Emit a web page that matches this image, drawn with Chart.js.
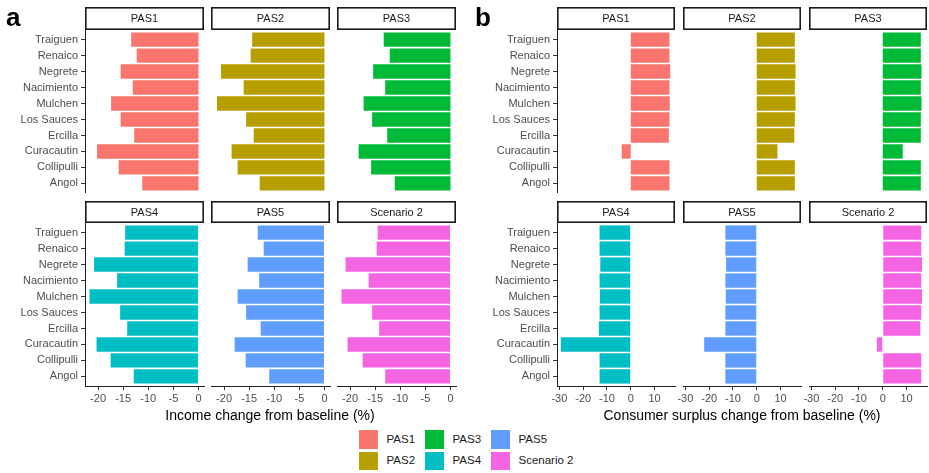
<!DOCTYPE html>
<html><head><meta charset="utf-8">
<script src="https://cdn.jsdelivr.net/npm/chart.js@4.4.1/dist/chart.umd.min.js"></script>
<style>
body{margin:0;background:#fff;width:929px;height:473px;overflow:hidden;position:relative;font-family:"Liberation Sans",Arial,sans-serif;}
canvas{position:absolute;}
.t{position:absolute;white-space:nowrap;}
</style></head><body>
<script>
// Categories bottom-to-top
const categories = ['Angol','Collipulli','Curacautin','Ercilla','Los Sauces','Mulchen','Nacimiento','Negrete','Renaico','Traiguen'];
const scenarios = ['PAS1','PAS2','PAS3','PAS4','PAS5','Scenario 2'];
const colors = ['#F8766D','#B79F00','#00BA38','#00BFC4','#619CFF','#F564E3'];

// Panel a: income change (%)
const incomePAS1 = [-11.2,-15.9,-20.2,-12.8,-15.5,-17.4,-13.1,-15.5,-12.3,-13.4];
const incomePAS2 = [-12.9,-17.3,-18.5,-14.1,-15.6,-21.4,-16.1,-20.6,-14.7,-14.4];
const incomePAS3 = [-11.1,-15.8,-18.3,-12.6,-15.6,-17.3,-13.0,-15.4,-12.1,-13.3];
const incomePAS4 = [-12.9,-17.5,-20.3,-14.2,-15.6,-21.7,-16.2,-20.8,-14.7,-14.6];
const incomePAS5 = [-11.0,-15.7,-17.9,-12.7,-15.6,-17.3,-13.0,-15.3,-12.1,-13.3];
const incomeScen2 = [-13.0,-17.5,-20.5,-14.2,-15.6,-21.7,-16.3,-20.9,-14.7,-14.5];

// Panel b: consumer surplus change (%)
const surplusPAS1 = [16.3,16.3,-3.8,16.0,16.3,16.4,16.3,16.6,16.3,16.3];
const surplusPAS2 = [16.0,16.0,8.7,15.8,16.0,16.3,16.0,16.3,16.0,16.0];
const surplusPAS3 = [16.0,16.0,8.4,16.0,16.0,16.3,16.0,16.3,16.0,16.0];
const surplusPAS4 = [-13.1,-13.1,-29.4,-13.4,-13.1,-13.0,-13.1,-12.8,-13.1,-13.1];
const surplusPAS5 = [-13.2,-13.2,-22.1,-13.2,-13.2,-13.0,-13.2,-12.9,-13.2,-13.2];
const surplusScen2 = [16.2,16.2,-2.5,15.8,16.2,16.5,16.2,16.5,16.2,16.2];

const incomeTicks = [-20,-15,-10,-5,0];
const surplusTicks = [-30,-20,-10,0,10];
const incomeTitle = 'Income change from baseline (%)';
const surplusTitle = 'Consumer surplus change from baseline (%)';

const incomeSeries = [incomePAS1,incomePAS2,incomePAS3,incomePAS4,incomePAS5,incomeScen2];
const surplusSeries = [surplusPAS1,surplusPAS2,surplusPAS3,surplusPAS4,surplusPAS5,surplusScen2];

const FONT = '"Liberation Sans", Arial, sans-serif';
const rows = [
  {stripTop:7, plotTop:30, plotBottom:193},
  {stripTop:201, plotTop:223, plotBottom:386}
];
const panels = [
  {lefts:[85,211,337], width:119, xmin:-22.6, xmax:1.1, YW:85, series:incomeSeries, ticks:incomeTicks},
  {lefts:[557,683,809], width:118, xmin:-31, xmax:18.6, YW:77, series:surplusSeries, ticks:surplusTicks}
];

function addText(txt, x, y, css){
  const d = document.createElement('div');
  d.className = 't';
  d.textContent = txt;
  Object.assign(d.style, css);
  d.style.left = x + 'px'; d.style.top = y + 'px';
  document.body.appendChild(d);
  return d;
}

function facet(p, col, rowIdx, k){
  const row = rows[rowIdx];
  const isLeft = col === 0, isBottom = rowIdx === 1;
  const M = 14, XH = 24;
  const padL = isLeft ? 0 : M;
  const yw = isLeft ? p.YW : 0;
  const xh = isBottom ? XH : 0;
  const left = p.lefts[col];
  const cLeft = left - yw - padL;
  const cW = padL + yw + p.width + M;
  const cH = (row.plotBottom - row.stripTop) + xh;
  const stripH = row.plotTop - row.stripTop;
  const cv = document.createElement('canvas');
  cv.width = cW; cv.height = cH;
  cv.style.width = cW + 'px'; cv.style.height = cH + 'px';
  cv.style.left = cLeft + 'px'; cv.style.top = row.stripTop + 'px';
  document.body.appendChild(cv);
  const label = scenarios[k];
  const values = p.series[k];
  const stripPlugin = {
    id:'strip',
    afterDraw(chart){
      const {ctx, chartArea:a} = chart;
      ctx.save();
      ctx.fillStyle = '#fff';
      ctx.fillRect(a.left, a.top - stripH, a.right - a.left, stripH);
      ctx.strokeStyle = '#1a1a1a'; ctx.lineWidth = 1.6;
      ctx.strokeRect(a.left + 0.8, a.top - stripH + 0.8, a.right - a.left - 1.6, stripH - 1.6);
      ctx.fillStyle = '#1a1a1a';
      ctx.font = '11px ' + FONT;
      ctx.textAlign = 'center'; ctx.textBaseline = 'middle';
      ctx.fillText(label, (a.left + a.right) / 2, a.top - stripH / 2 + 0.5);
      ctx.restore();
    }
  };
  new Chart(cv, {
    type:'bar',
    data:{datasets:[{
      data: values.map((v,i)=>({x:v, y:i+1})),
      backgroundColor: colors[k],
      borderWidth:0,
      barPercentage:0.9,
      categoryPercentage:1
    }]},
    options:{
      indexAxis:'y',
      responsive:false,
      animation:false,
      devicePixelRatio:1,
      layout:{padding:{left:padL, right:M, top:stripH, bottom:0}},
      plugins:{legend:{display:false}, tooltip:{enabled:false}},
      scales:{
        x:{
          type:'linear', min:p.xmin, max:p.xmax, display:isBottom, offset:false,
          afterBuildTicks(s){ s.ticks = p.ticks.map(v=>({value:v})); },
          afterFit(s){ s.height = xh; s.paddingLeft = 0; s.paddingRight = 0; },
          grid:{display:true, offset:false, drawOnChartArea:false, drawTicks:true, tickLength:4, tickColor:'#333', lineWidth:1},
          border:{display:true, color:'#222', width:1},
          ticks:{color:'#4d4d4d', font:{size:11, family:FONT}, padding:2, maxRotation:0, autoSkip:false, callback:v=>String(v)}
        },
        y:{
          type:'linear', min:0.4, max:10.6, display:isLeft, offset:false,
          afterBuildTicks(s){ s.ticks = categories.map((c,i)=>({value:i+1})); },
          afterFit(s){ s.width = yw; s.paddingTop = 0; s.paddingBottom = 0; },
          grid:{display:true, offset:false, drawOnChartArea:false, drawTicks:true, tickLength:4, tickColor:'#333', lineWidth:1},
          border:{display:true, color:'#222', width:1},
          ticks:{color:'#4d4d4d', font:{size:11, family:FONT}, padding:3, autoSkip:false, callback:v=>categories[Math.round(v)-1]}
        }
      }
    },
    plugins:[stripPlugin]
  });
}

panels.forEach(p=>{
  for(let k=0;k<6;k++){
    facet(p, k%3, Math.floor(k/3), k);
  }
});

// Panel letters
addText('a', 6, 2, {font:'bold 26px '+FONT, color:'#000'});
addText('b', 475, 2, {font:'bold 26px '+FONT, color:'#000'});

// Axis titles
addText(incomeTitle, 270, 407, {font:'14px '+FONT, color:'#000', transform:'translateX(-50%)'});
addText(surplusTitle, 742, 407, {font:'14px '+FONT, color:'#000', transform:'translateX(-50%)'});

// Legend (column-major, 2 rows)
const keyX = [358, 424, 490], keyY = [429, 450.5], KS = 20.5;
scenarios.forEach((s,i)=>{
  const c = Math.floor(i/2), r = i%2;
  const key = document.createElement('div');
  Object.assign(key.style, {position:'absolute', left:keyX[c]+'px', top:keyY[r]+'px', width:KS+'px', height:KS+'px', background:colors[i], boxSizing:'border-box', border:'1px solid #fff'});
  document.body.appendChild(key);
  addText(s, keyX[c]+28.5, keyY[r]+3.5, {font:'11.5px '+FONT, color:'#1a1a1a'});
});
</script>
</body></html>
